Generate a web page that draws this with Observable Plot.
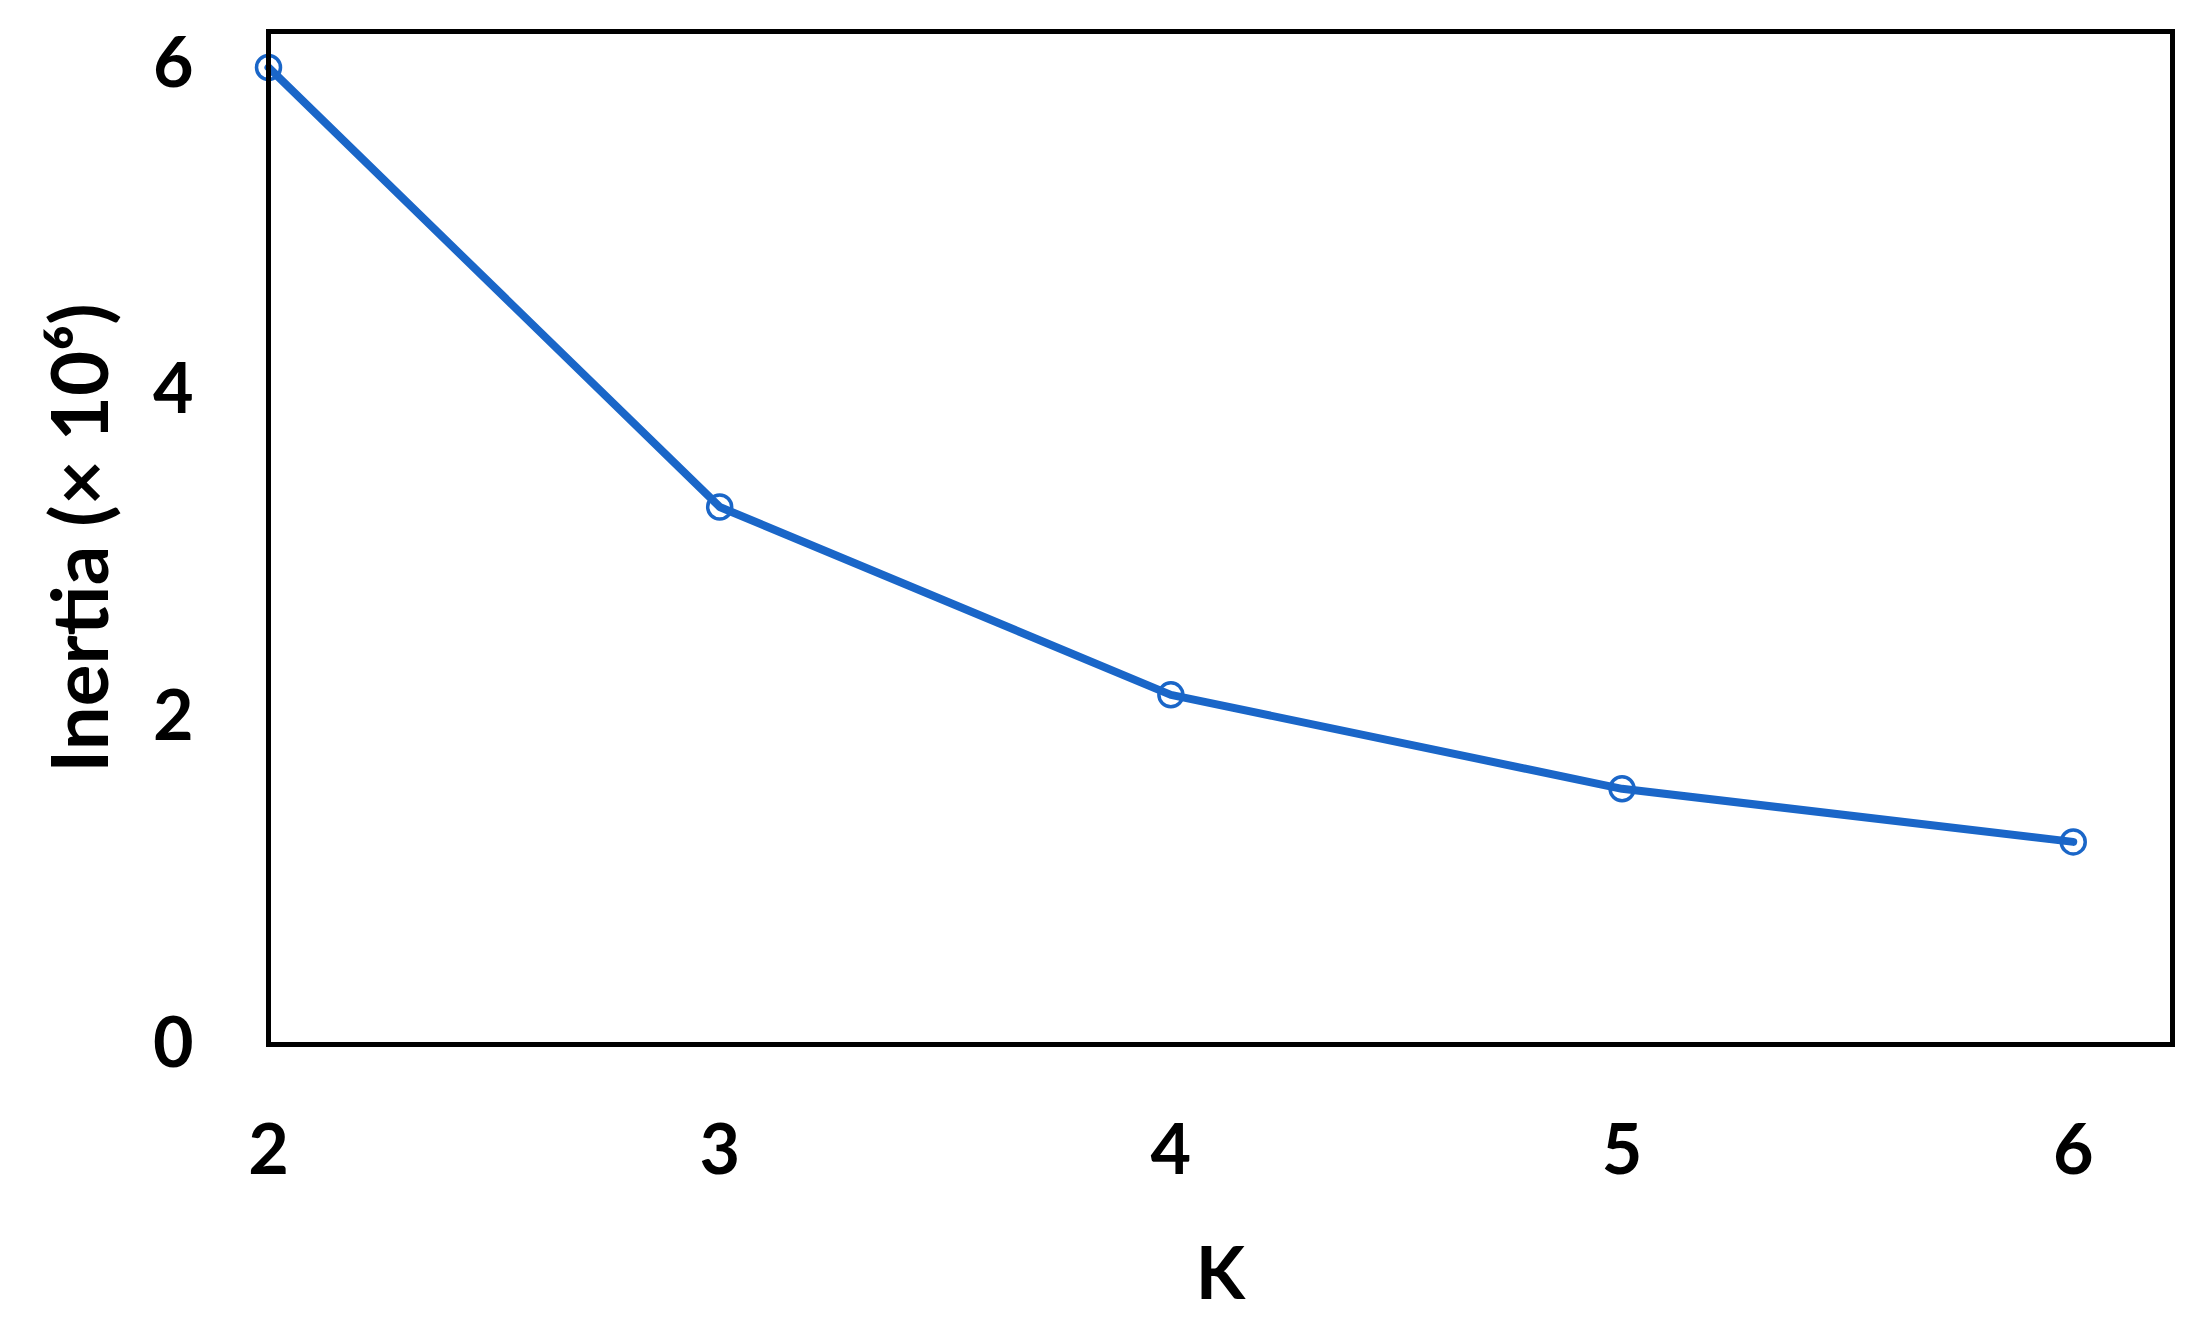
<!DOCTYPE html>
<html>
<head>
<meta charset="utf-8">
<script src="https://cdn.jsdelivr.net/npm/d3@7"></script>
<script src="https://cdn.jsdelivr.net/npm/@observablehq/plot@0.6"></script>
<style>
  html, body { margin: 0; padding: 0; background: #fff; }
  #chart { width: 2204px; height: 1332px; }
</style>
</head>
<body>
<div id="chart"></div>
<script>
const kValues = [2, 3, 4, 5, 6];
const inertia = [5.98, 3.29, 2.14, 1.565, 1.24];
const xTicks = [2, 3, 4, 5, 6];
const yTicks = [0, 2, 4, 6];
const xLabel = "K";
const yLabel = "Inertia (× 10⁶)";

const data = kValues.map((k, i) => ({k, v: inertia[i]}));
const blue = "#1a66c8";
const font = "Lato, 'Open Sans', sans-serif";

const chart = Plot.plot({
  width: 2204,
  height: 1332,
  marginLeft: 268,
  marginRight: 32,
  marginTop: 31,
  marginBottom: 288,
  style: {fontFamily: font, fontWeight: "bold", fontSize: "70px", color: "#000", background: "#fff"},
  x: {domain: [2, 6.22]},
  y: {domain: [0, 6.2]},
  marks: [
    Plot.axisX({ticks: xTicks, tickSize: 0, tickPadding: 80, tickFormat: d => String(d),
      fontSize: 70, fontWeight: "bold", label: null}),
    Plot.axisX({ticks: [], tickSize: 0, fontSize: 72, fontWeight: "bold",
      label: xLabel, labelAnchor: "center", labelOffset: 254, labelArrow: "none"}),
    Plot.axisY({ticks: yTicks, tickSize: 0, tickPadding: 75, tickFormat: d => String(d),
      fontSize: 70, fontWeight: "bold", label: null}),
    Plot.axisY({ticks: [], tickSize: 0, fontSize: 78, fontWeight: "bold",
      label: yLabel, labelAnchor: "center", labelOffset: 216, labelArrow: "none"}),
    Plot.line(data, {x: "k", y: "v", stroke: blue, strokeWidth: 8}),
    Plot.dot(data, {x: "k", y: "v", r: 12, stroke: blue, strokeWidth: 3.5, fill: "none"}),
    Plot.frame({stroke: "#000", strokeWidth: 5})
  ]
});
document.getElementById("chart").appendChild(chart);
</script>
</body>
</html>
